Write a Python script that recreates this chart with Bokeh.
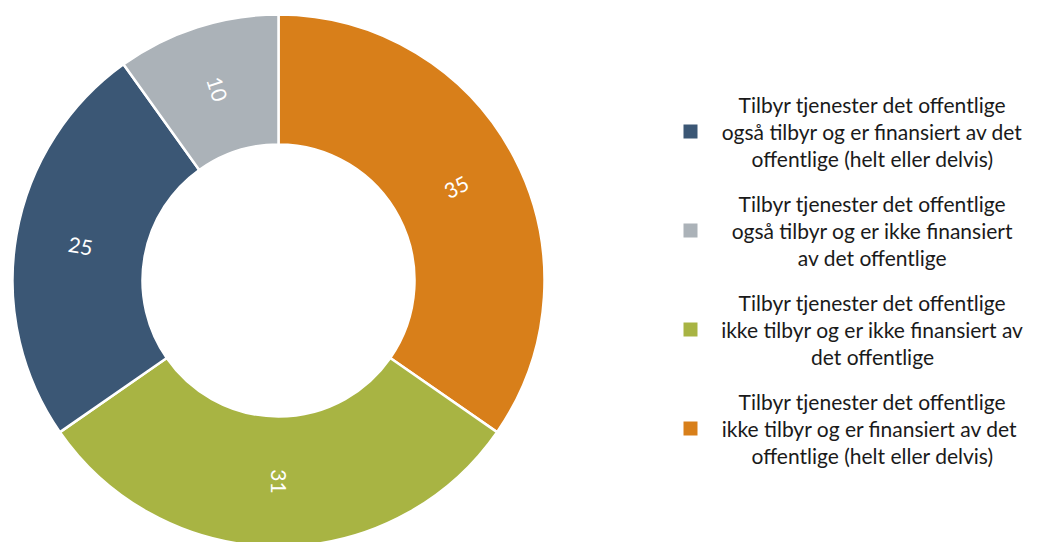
import numpy as np
from bokeh.plotting import figure
from bokeh.models import ColumnDataSource, Range1d
from bokeh.core.properties import value
from bokeh.embed import file_html
from bokeh.resources import INLINE

categories = [
    "Tilbyr tjenester det offentlige\nogså tilbyr og er finansiert av det\noffentlige (helt eller delvis)",
    "Tilbyr tjenester det offentlige\nogså tilbyr og er ikke finansiert\nav det offentlige",
    "Tilbyr tjenester det offentlige\nikke tilbyr og er ikke finansiert av\ndet offentlige",
    "Tilbyr tjenester det offentlige\nikke tilbyr og er  finansiert av det\noffentlige (helt eller delvis)",
]
values = [25, 10, 31, 35]
colors = ["#3B5775", "#ABB2B8", "#A8B443", "#D87F1A"]
pie_order = [3, 2, 0, 1]  # clockwise from 12 o'clock

W, H = 1040, 542
FONT = "Lato"
FS = 21

p = figure(width=W, height=H, x_range=Range1d(0, W), y_range=Range1d(0, H),
           output_backend="svg", toolbar_location=None, min_border=0,
           x_axis_location=None, y_axis_location=None)
p.grid.visible = False
p.outline_line_color = None

cx, cy = 278, 262
r_in, r_out = 136, 266

vals = np.array([values[i] for i in pie_order], dtype=float)
cols = [colors[i] for i in pie_order]
fr = vals / vals.sum()
cum1 = np.cumsum(fr)
cum0 = cum1 - fr
start = np.pi / 2 - 2 * np.pi * cum0
end = np.pi / 2 - 2 * np.pi * cum1
mid = (start + end) / 2

src = ColumnDataSource(dict(start=start, end=end, color=cols))
p.annular_wedge(x=cx, y=cy, inner_radius=r_in, outer_radius=r_out,
                start_angle="start", end_angle="end", direction="clock",
                fill_color="color", line_color="white", line_width=2.5, source=src)

r_mid = (r_in + r_out) / 2
tang = np.where(np.cos(mid) < -1e-9, mid + np.pi, mid)
lsrc = ColumnDataSource(dict(x=cx + r_mid * np.cos(mid), y=cy + r_mid * np.sin(mid),
                             t=[str(int(v)) for v in vals], a=tang))
p.text(x="x", y="y", text="t", angle="a", source=lsrc, text_align="center",
       text_baseline="middle", text_color="white", text_font=value(FONT),
       text_font_size="21px")

leg_y = [411, 312, 213, 114]
p.rect(x=[690] * 4, y=leg_y, width=14, height=14, fill_color=colors, line_color=None)
p.text(x=[872] * 4, y=leg_y, text=categories, text_align="center", text_baseline="middle",
       text_color="#1a1a1a", text_font=value(FONT), text_font_size=f"{FS}px",
       text_line_height=27.5 / (FS * 1.2))

open("out.html", "w").write(file_html(p, INLINE))
